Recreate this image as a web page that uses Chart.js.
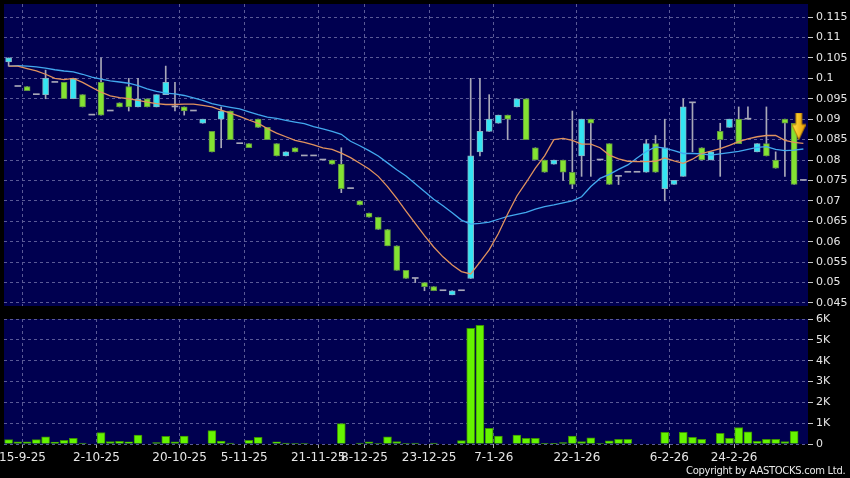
<!DOCTYPE html>
<html><head><meta charset="utf-8">
<script src="https://cdn.jsdelivr.net/npm/chart.js@4"></script>
<style>
html,body{margin:0;padding:0;background:#000;width:850px;height:478px;overflow:hidden}
#c1{position:absolute;left:0;top:0}
#c2{position:absolute;left:0;top:312px}
#copy{position:absolute;left:686px;top:465px;color:#e8e8e8;font:10px "DejaVu Sans";letter-spacing:-0.3px;white-space:nowrap}
</style></head><body>
<canvas id="c1" width="850" height="312"></canvas>
<canvas id="c2" width="850" height="166"></canvas>
<div id="copy">Copyright by AASTOCKS.com Ltd.</div>
<script>
// ---- data ----
const priceTicks = [0.045,0.05,0.055,0.06,0.065,0.07,0.075,0.08,0.085,0.09,0.095,0.1,0.105,0.11,0.115];
const volTicks = [0,1000,2000,3000,4000,5000,6000];
const volTickLabels = ['0','1K','2K','3K','4K','5K','6K'];
const dateLabels = ['15-9-25','2-10-25','20-10-25','5-11-25','21-11-25','8-12-25','23-12-25','7-1-26','22-1-26','6-2-26','24-2-26'];
const dateLabelAt = [1.5,9.5,18.5,25.5,33.5,38.5,45.5,52.5,61.5,71.5,78.5];

const open  = [0.104,0.098,0.098,0.096,0.096,0.099,0.099,0.095,0.096,0.091,
               0.099,0.092,0.094,0.098,0.093,0.095,0.093,0.096,0.093,0.093,
               0.092,0.089,0.087,0.090,0.092,0.084,0.084,0.090,0.088,0.084,
               0.081,0.083,0.081,0.081,0.080,0.080,0.079,0.073,0.070,0.067,
               0.066,0.063,0.059,0.053,0.051,0.050,0.049,0.048,0.047,0.048,
               0.051,0.082,0.087,0.089,0.091,0.093,0.095,0.083,0.080,0.079,
               0.080,0.077,0.081,0.090,0.080,0.084,0.076,0.077,0.077,0.077,
               0.084,0.073,0.074,0.076,0.094,0.083,0.080,0.087,0.088,0.090,
               0.090,0.082,0.084,0.080,0.090,0.089,0.075];
const high  = [0.105,0.098,0.098,0.096,0.102,0.099,0.099,0.100,0.096,0.091,
               0.105,0.092,0.094,0.100,0.100,0.095,0.096,0.103,0.099,0.093,
               0.092,0.090,0.087,0.093,0.092,0.084,0.084,0.090,0.088,0.084,
               0.082,0.083,0.081,0.081,0.080,0.080,0.083,0.073,0.070,0.067,
               0.066,0.063,0.059,0.053,0.051,0.050,0.049,0.048,0.048,0.048,
               0.100,0.100,0.096,0.091,0.091,0.095,0.095,0.083,0.080,0.080,
               0.080,0.092,0.090,0.090,0.080,0.084,0.076,0.077,0.077,0.085,
               0.086,0.090,0.075,0.095,0.094,0.083,0.082,0.089,0.090,0.093,
               0.093,0.084,0.093,0.082,0.090,0.089,0.075];
const low   = [0.103,0.098,0.097,0.096,0.095,0.099,0.095,0.095,0.093,0.091,
               0.091,0.092,0.093,0.092,0.093,0.093,0.093,0.096,0.092,0.091,
               0.092,0.089,0.082,0.083,0.085,0.084,0.083,0.088,0.085,0.081,
               0.081,0.082,0.081,0.081,0.080,0.079,0.072,0.073,0.069,0.066,
               0.063,0.059,0.053,0.051,0.050,0.048,0.048,0.048,0.047,0.048,
               0.051,0.081,0.087,0.089,0.085,0.093,0.085,0.080,0.077,0.079,
               0.075,0.073,0.076,0.076,0.080,0.074,0.074,0.077,0.077,0.077,
               0.077,0.070,0.074,0.076,0.082,0.080,0.080,0.076,0.088,0.084,
               0.090,0.082,0.081,0.078,0.076,0.074,0.075];
const close = [0.105,0.098,0.097,0.096,0.100,0.099,0.095,0.100,0.093,0.091,
               0.091,0.092,0.093,0.093,0.095,0.093,0.096,0.099,0.093,0.092,
               0.092,0.090,0.082,0.092,0.085,0.084,0.083,0.088,0.085,0.081,
               0.082,0.082,0.081,0.081,0.080,0.079,0.073,0.073,0.069,0.066,
               0.063,0.059,0.053,0.051,0.051,0.049,0.048,0.048,0.048,0.048,
               0.081,0.087,0.090,0.091,0.090,0.095,0.085,0.080,0.077,0.080,
               0.077,0.074,0.090,0.089,0.080,0.074,0.076,0.077,0.077,0.084,
               0.077,0.083,0.075,0.093,0.094,0.080,0.082,0.085,0.090,0.084,
               0.090,0.084,0.081,0.078,0.089,0.074,0.075];
const volume = [210,100,100,210,340,90,180,270,50,0,
                550,120,130,110,430,0,70,370,100,380,
                0,0,640,140,50,0,180,320,0,110,
                40,20,20,0,0,0,980,0,50,100,
                20,340,120,20,50,0,50,0,0,160,
                5550,5700,750,380,0,430,270,270,30,30,
                70,380,120,300,20,150,220,220,0,0,
                0,560,0,560,320,220,0,510,270,790,
                580,130,220,220,120,610,0];
const maShort = [0.1030,0.1030,0.1024,0.1018,0.1010,0.1000,0.0997,0.1000,0.0990,0.0978,
                 0.0966,0.0957,0.0953,0.0950,0.0946,0.0942,0.0938,0.0936,0.0936,0.0937,
                 0.0937,0.0934,0.0930,0.0922,0.0915,0.0907,0.0898,0.0890,0.0877,0.0866,
                 0.0857,0.0848,0.0843,0.0837,0.0830,0.0826,0.0817,0.0806,0.0792,0.0778,
                 0.0760,0.0735,0.0706,0.0675,0.0645,0.0615,0.0587,0.0563,0.0543,0.0527,
                 0.0521,0.0550,0.0580,0.0620,0.0668,0.0712,0.0745,0.0780,0.0810,0.0850,
                 0.0853,0.0848,0.0839,0.0839,0.0830,0.0812,0.0803,0.0797,0.0796,0.0796,
                 0.0797,0.0805,0.0798,0.0792,0.0802,0.0816,0.0822,0.0828,0.0836,0.0845,
                 0.0852,0.0857,0.0860,0.0860,0.0848,0.0843,0.0841];
const maLong  = [0.1030,0.1031,0.1030,0.1028,0.1025,0.1021,0.1018,0.1016,0.1010,0.1003,
                 0.0998,0.0994,0.0991,0.0988,0.0982,0.0974,0.0968,0.0964,0.0962,0.0958,
                 0.0952,0.0946,0.0938,0.0933,0.0929,0.0925,0.0918,0.0911,0.0905,0.0902,
                 0.0897,0.0893,0.0889,0.0882,0.0876,0.0870,0.0863,0.0846,0.0835,0.0823,
                 0.0810,0.0793,0.0776,0.0761,0.0742,0.0723,0.0704,0.0688,0.0671,0.0653,
                 0.0643,0.0645,0.0648,0.0655,0.0662,0.0667,0.0672,0.0680,0.0686,0.0690,
                 0.0695,0.0700,0.0710,0.0735,0.0755,0.0765,0.0777,0.0788,0.0805,0.0821,
                 0.0832,0.0829,0.0823,0.0816,0.0816,0.0815,0.0812,0.0815,0.0818,0.0821,
                 0.0826,0.0831,0.0833,0.0826,0.0823,0.0824,0.0827];
const latestMarker = {x: 85.5, y: 0.0882};

// ---- style ----
const NAVY = '#000050', GRID = '#5a5a96', TXT = '#e6e6e6';
const UP = '#34e4f2', UPB = '#86b4c4', DN = '#84e232', DNB = '#5e9440', DOJI = '#a8a8b8';
Chart.defaults.font.family = 'DejaVu Sans';
const bg = {id:'bg', beforeDraw(c){const {ctx, chartArea:a} = c; ctx.save(); ctx.fillStyle = NAVY; ctx.fillRect(a.left, a.top, a.width, a.height); ctx.restore();}};

const idx = open.map((_, i) => i);
const dir = i => close[i] > open[i] ? 1 : (close[i] < open[i] ? -1 : 0);

// arrow point style
const ac = document.createElement('canvas'); ac.width = 14; ac.height = 28;
{ const g = ac.getContext('2d');
  const gr = g.createLinearGradient(0,0,14,0); gr.addColorStop(0,'#ffe84a'); gr.addColorStop(1,'#e89a00');
  g.fillStyle = gr; g.beginPath();
  g.moveTo(4,0); g.lineTo(10,0); g.lineTo(10,12); g.lineTo(14,12); g.lineTo(7,27); g.lineTo(0,12); g.lineTo(4,12); g.closePath(); g.fill();
  g.strokeStyle = '#b07800'; g.lineWidth = 1; g.stroke(); }

const xBase = {type:'linear', min:-0.5, max:86.5, offset:false,
  afterBuildTicks: s => { s.ticks = dateLabelAt.map(v => ({value:v})); }};
const lineOpts = {borderWidth:1.3, pointRadius:0, pointHoverRadius:0, pointBorderWidth:0, pointHitRadius:0};

new Chart(document.getElementById('c1'), {
  data: {datasets: [
    {type:'bar', data: idx.filter(i => high[i] > low[i]).map(i => ({x:i, y:[low[i], high[i]]})),
     backgroundColor: DOJI, barThickness: 1, grouped:false, order: 5},
    {type:'bar', data: idx.map(i => ({x:i, y:[open[i], close[i]]})),
     backgroundColor: c => { const d = dir(c.dataIndex); return d > 0 ? UP : d < 0 ? DN : DOJI; },
     borderColor: c => dir(c.dataIndex) > 0 ? UPB : DNB,
     borderWidth: c => dir(c.dataIndex) === 0 ? 0 : 1,
     borderSkipped: false, minBarLength: 1, barThickness: 6, grouped:false, order: 4},
    Object.assign({type:'line', data: idx.map(i => ({x:i, y:maLong[i]})), borderColor:'#42a8ee', order:3}, lineOpts),
    Object.assign({type:'line', data: idx.map(i => ({x:i, y:maShort[i]})), borderColor:'#e0925e', order:2}, lineOpts),
    {type:'scatter', data:[latestMarker], pointStyle: ac, pointRadius: 1, pointHoverRadius: 0, pointBorderWidth: 0, order:0, clip:false}
  ]},
  options: {
    responsive:false, animation:false, events:[],
    layout:{padding:{left:4, top:4, right:0, bottom:6}},
    plugins:{legend:{display:false}, tooltip:{enabled:false}},
    scales:{
      x: Object.assign({}, xBase, {
        ticks:{display:false}, grid:{color:GRID, drawTicks:false, offset:false}, border:{display:false, dash:[3,3]},
        afterFit: s => { s.height = 0; s.paddingLeft = 0; s.paddingRight = 0; }}),
      y: {type:'linear', position:'right', min:0.04426, max:0.1182,
        afterBuildTicks: s => { s.ticks = priceTicks.map(v => ({value:v})); },
        ticks:{color:TXT, font:{size:11}, padding:3, callback: v => String(v)},
        grid:{color:GRID, tickColor:'#c8c8c8', tickLength:5, tickBorderDash:[]},
        border:{display:false, dash:[3,3]},
        afterFit: s => { s.width = 42; s.paddingTop = 0; s.paddingBottom = 0; }}
    }
  },
  plugins:[bg]
});

new Chart(document.getElementById('c2'), {
  data: {datasets: [
    {type:'bar', data: idx.map(i => ({x:i, y:volume[i]})), backgroundColor:'#66f400', borderColor:'#3a9200',
     borderWidth:1, borderSkipped:'start', barThickness: 8, grouped:false}
  ]},
  options: {
    responsive:false, animation:false, events:[],
    layout:{padding:{left:4, top:7, right:0, bottom:0}},
    plugins:{legend:{display:false}, tooltip:{enabled:false}},
    scales:{
      x: Object.assign({}, xBase, {
        ticks:{display:true, color:TXT, font:{size:12}, padding:3, maxRotation:0, autoSkip:false,
               callback: (v, i) => dateLabels[i]},
        grid:{color:GRID, tickColor:'#a8a8a8', tickLength:4, tickBorderDash:[], offset:false},
        border:{display:false, dash:[3,3]},
        afterFit: s => { s.height = 34; s.paddingLeft = 0; s.paddingRight = 0; }}),
      y: {type:'linear', position:'right', min:0, max:6000,
        afterBuildTicks: s => { s.ticks = volTicks.map(v => ({value:v})); },
        ticks:{color:TXT, font:{size:11}, padding:3, callback: (v, i) => volTickLabels[i]},
        grid:{color:GRID, tickColor:'#c8c8c8', tickLength:5, tickBorderDash:[]},
        border:{display:false, dash:[3,3]},
        afterFit: s => { s.width = 42; s.paddingTop = 0; s.paddingBottom = 0; }}
    }
  },
  plugins:[bg]
});
</script>
</body></html>
